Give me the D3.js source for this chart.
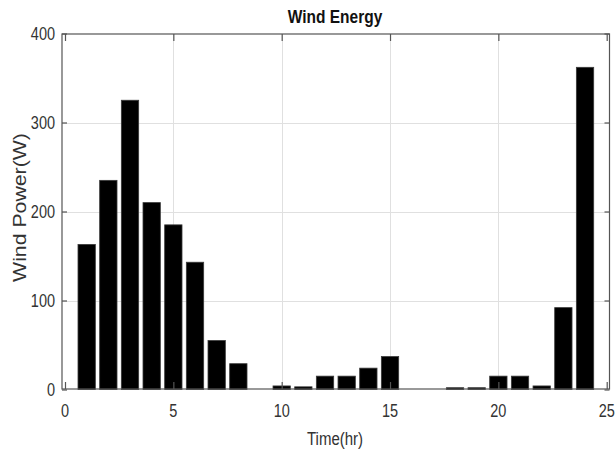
<!DOCTYPE html>
<html>
<head>
<meta charset="utf-8">
<script src="https://cdn.jsdelivr.net/npm/d3@7/dist/d3.min.js"></script>
<style>
  html, body { margin: 0; padding: 0; background: #fff; }
  svg { display: block; }
  text { font-family: "Liberation Sans", Arial, Helvetica, sans-serif; fill: #333; }
</style>
</head>
<body>
<svg id="chart" width="615" height="453"></svg>
<script>
// Hourly wind power output over one day
const hours = d3.range(1, 25);
const windPower = [163, 235, 325, 210, 185, 143, 55, 29, 0, 4, 3, 15,
                   15, 24, 37, 0, 0, 2, 2, 15, 15, 4, 92, 362];
const xTicks = [0, 5, 10, 15, 20, 25];
const yTicks = [0, 100, 200, 300, 400];
const titleText = "Wind Energy";
const xLabelText = "Time(hr)";
const yLabelText = "Wind Power(W)";

const svg = d3.select("#chart");

// axes box and data mapping
const box = { left: 62, right: 609.5, top: 34, bottom: 389 };
const x = d3.scaleLinear().domain([0, 25]).range([65, 606.7]);
const y = d3.scaleLinear().domain([0, 400]).range([389.5, 33.5]);
const sy = 1.28; // vertical text stretch

// grid
const grid = svg.append("g").attr("stroke", "#e0e0e0").attr("stroke-width", 1);
grid.selectAll("line.gx").data(xTicks.filter(t => t > 0 && t < 25)).join("line")
  .attr("x1", d => Math.round(x(d)) + 0.5).attr("x2", d => Math.round(x(d)) + 0.5)
  .attr("y1", box.top).attr("y2", box.bottom);
grid.selectAll("line.gy").data(yTicks.filter(t => t > 0 && t < 400)).join("line")
  .attr("x1", box.left).attr("x2", box.right)
  .attr("y1", d => Math.round(y(d)) + 0.5).attr("y2", d => Math.round(y(d)) + 0.5);

// bars
const bw = 0.8 * (x(1) - x(0));
svg.append("g").selectAll("rect").data(hours).join("rect")
  .attr("x", (h) => x(h) - bw / 2)
  .attr("width", bw)
  .attr("y", (h, i) => y(windPower[i]))
  .attr("height", (h, i) => Math.max(0, y(0) - y(windPower[i])))
  .attr("fill", "#000")
  .attr("stroke", "#3a3a3a")
  .attr("stroke-width", 0.8);

// box outline
svg.append("rect")
  .attr("x", box.left).attr("y", box.top)
  .attr("width", box.right - box.left).attr("height", box.bottom - box.top)
  .attr("fill", "none").attr("stroke", "#555").attr("stroke-width", 1.2);

// inward tick marks on all four sides
const axisG = svg.append("g").attr("stroke", "#555").attr("stroke-width", 1.2);
const xAxisBottom = d3.axisBottom(x).tickValues(xTicks).tickSize(-7).tickFormat("");
const xAxisTop = d3.axisTop(x).tickValues(xTicks).tickSize(-7).tickFormat("");
const yAxisLeft = d3.axisLeft(y).tickValues(yTicks).tickSize(-5).tickFormat("");
const yAxisRight = d3.axisRight(y).tickValues(yTicks).tickSize(-5).tickFormat("");
function styleAxis(g) { g.select(".domain").remove(); g.selectAll("line").attr("stroke", "#555"); }
axisG.append("g").attr("transform", `translate(0,${box.bottom})`).call(xAxisBottom).call(styleAxis);
axisG.append("g").attr("transform", `translate(0,${box.top})`).call(xAxisTop).call(styleAxis);
axisG.append("g").attr("transform", `translate(${box.left},0)`).call(yAxisLeft).call(styleAxis);
axisG.append("g").attr("transform", `translate(${box.right},0)`).call(yAxisRight).call(styleAxis);

// tick labels
svg.append("g").selectAll("text").data(xTicks).join("text")
  .attr("transform", d => `translate(${x(d)},417) scale(1,${sy})`)
  .attr("text-anchor", "middle")
  .style("font-size", "14.5px")
  .text(d => d);
svg.append("g").selectAll("text").data(yTicks).join("text")
  .attr("transform", d => `translate(55,${y(d) + 6.6}) scale(1,${sy})`)
  .attr("text-anchor", "end")
  .style("font-size", "14.5px")
  .text(d => d);

// title
svg.append("text")
  .attr("transform", `translate(335,22.7) scale(1,1.2)`)
  .attr("text-anchor", "middle")
  .style("font-size", "15.5px").style("font-weight", "bold").style("fill", "#111")
  .text(titleText);

// axis labels
svg.append("text")
  .attr("transform", `translate(335,445) scale(1,${sy})`)
  .attr("text-anchor", "middle")
  .style("font-size", "15px")
  .text(xLabelText);
svg.append("text")
  .attr("transform", `translate(26,207.5) scale(1,1.15) rotate(-90)`)
  .attr("text-anchor", "middle")
  .style("font-size", "18.5px")
  .text(yLabelText);
</script>
</body>
</html>
